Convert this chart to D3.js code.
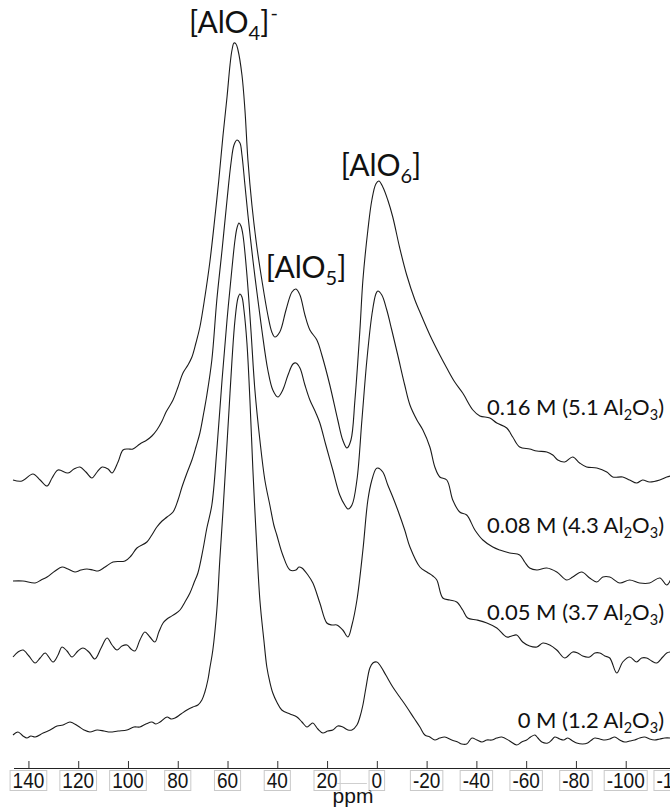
<!DOCTYPE html>
<html>
<head>
<meta charset="utf-8">
<script src="https://cdn.jsdelivr.net/npm/d3@7/dist/d3.min.js"></script>
<style>
  html, body { margin: 0; padding: 0; background: #fff; }
  svg { display: block; }
</style>
</head>
<body>
<svg id="chart" width="670" height="808"></svg>
<script>
// 27Al MAS NMR spectra, stacked by alumina content (ppm, relative intensity)
const spectrum016 = [
  [146.2,0],[142.6,-1],[138.2,6],[135.3,0],[132.5,-6],[130.5,2],[128.1,10],[124.1,7],[121.7,11],[119.3,13],
  [116.9,8],[114.5,2],[112.4,8],[110.4,13],[108.0,11],[106.4,7],[104.0,18],[102.0,30],[100.0,31],[98.0,31],
  [95.2,36],[92.4,40],[90.4,44],[88.4,50],[86.3,59],[84.7,68],[81.9,80],[79.9,93],[77.9,107],[75.9,115],
  [74.3,123],[72.7,137],[71.1,153],[69.1,183],[67.1,218],[65.1,262],[63.5,300],[61.8,345],[60.2,383],[59.0,415],
  [58.2,430],[57.4,437],[56.6,436],[55.8,430],[54.2,405],[53.0,370],[51.8,320],[50.2,275],[48.2,233],[46.2,200],
  [43.8,165],[42.2,148],[41.0,143],[39.0,148],[36.5,170],[34.1,188],[32.5,191],[30.9,185],[28.9,165],[26.9,150],
  [24.1,140],[22.1,125],[18.9,95],[15.7,60],[13.7,40],[12.0,32],[10.4,40],[8.8,80],[6.8,150],[5.6,200],
  [3.6,250],[2.0,280],[0.4,296],[-0.8,299],[-2.4,293],[-4.4,280],[-6.4,263],[-9.2,232],[-12.0,205],[-15.3,180],
  [-17.3,168],[-21.3,145],[-25.3,125],[-28.1,112],[-31.3,98],[-34.5,87],[-38.6,70],[-41.4,64],[-45.4,62],[-48.2,57],
  [-52.2,52],[-54.6,43],[-57.4,33],[-61.4,31],[-64.3,29],[-68.3,28],[-70.7,25],[-72.7,20],[-75.5,18],[-78.7,23],
  [-81.5,17],[-84.3,13],[-88.4,12],[-92.4,8],[-94.8,3],[-98.8,3],[-101.6,0],[-104.4,-3],[-106.8,0],[-109.6,-2],
  [-113.7,0],[-116.5,3],[-118.0,4]
];
const spectrum008 = [
  [146.2,0],[142.2,0],[137.3,-2],[134.9,1],[132.5,4],[129.3,10],[126.5,14],[124.1,12],[121.3,9],[118.9,11],
  [116.5,12],[114.1,11],[112.0,10],[109.2,14],[106.0,19],[101.2,20],[98.8,25],[96.4,33],[92.4,39],[90.4,46],
  [88.4,54],[86.3,60],[84.3,64],[81.9,69],[79.9,81],[78.3,94],[76.3,108],[74.3,121],[72.7,134],[71.1,148],
  [69.5,169],[68.3,186],[66.3,221],[64.3,281],[62.2,331],[60.2,381],[58.6,418],[57.4,436],[56.2,441],[55.0,438],
  [54.2,426],[53.0,396],[51.8,366],[49.8,321],[48.2,289],[46.2,251],[43.8,211],[41.8,191],[39.8,184],[37.8,191],
  [35.7,206],[33.7,217],[32.5,218],[30.9,213],[28.9,196],[26.9,181],[24.5,168],[22.9,158],[20.5,136],[17.7,111],
  [14.9,86],[12.9,76],[11.6,72],[10.0,76],[8.0,101],[6.0,161],[4.0,221],[2.0,266],[0.4,287],[-0.4,290],
  [-2.0,286],[-4.0,271],[-6.0,251],[-8.4,226],[-11.2,196],[-13.3,176],[-16.1,161],[-18.5,151],[-21.3,134],[-23.3,114],
  [-25.3,104],[-28.1,101],[-30.5,81],[-33.3,69],[-36.1,66],[-39.4,51],[-42.6,41],[-46.6,34],[-49.4,31],[-53.4,28],
  [-57.4,26],[-59.4,19],[-61.4,13],[-64.3,11],[-68.3,13],[-72.3,9],[-76.3,1],[-78.7,4],[-82.3,9],[-85.5,3],
  [-88.4,-1],[-90.8,4],[-93.6,4],[-97.6,-2],[-101.6,1],[-105.6,-2],[-109.6,-2],[-113.7,3],[-116.5,-4],[-118.0,1]
];
const spectrum005 = [
  [146.2,0],[144.2,5],[142.2,7],[139.8,1],[137.3,-6],[135.3,-1],[133.3,4],[130.1,-5],[128.1,2],[126.5,10],
  [124.5,6],[122.5,0],[120.1,6],[118.1,9],[115.7,5],[113.3,-2],[110.8,9],[108.4,19],[106.4,12],[104.4,7],
  [102.4,11],[100.4,12],[98.8,8],[97.2,6],[95.2,17],[93.2,25],[91.2,20],[89.2,15],[87.6,25],[85.9,34],
  [84.3,38],[83.1,40],[81.1,43],[79.1,47],[77.1,55],[75.1,64],[73.5,74],[71.9,84],[69.9,107],[68.3,129],
  [66.3,152],[64.3,207],[62.2,277],[60.2,337],[58.2,389],[57.0,417],[56.2,429],[55.4,434],[54.6,431],[53.8,422],
  [52.2,382],[50.6,327],[49.0,267],[47.0,217],[45.0,177],[43.0,152],[41.4,132],[40.2,122],[37.8,102],[34.9,87],
  [32.5,87],[31.3,90],[30.1,89],[27.7,82],[25.7,74],[22.9,54],[20.1,34],[18.1,32],[16.1,32],[13.7,27],
  [11.6,20],[10.0,32],[8.0,57],[5.6,107],[3.6,157],[2.0,177],[0.4,188],[-0.4,189],[-2.4,185],[-4.4,172],
  [-6.4,160],[-8.4,147],[-11.2,127],[-13.3,110],[-17.3,90],[-20.1,85],[-22.5,81],[-24.1,77],[-26.5,59],[-29.3,57],
  [-32.1,55],[-34.5,47],[-36.5,39],[-40.2,37],[-44.2,34],[-48.2,29],[-52.2,20],[-54.2,21],[-56.2,22],[-58.6,15],
  [-61.4,11],[-64.3,10],[-66.7,14],[-69.5,12],[-72.3,7],[-75.5,-1],[-78.7,5],[-80.7,4],[-82.7,1],[-85.5,0],
  [-87.6,4],[-89.6,4],[-91.6,1],[-93.6,-1],[-96.4,-16],[-98.8,-5],[-101.6,0],[-104.4,-5],[-106.4,-1],[-108.4,-1],
  [-110.4,-4],[-112.4,-6],[-114.9,0],[-116.5,4],[-118.0,5]
];
const spectrum000 = [
  [146.2,0],[144.2,3],[142.2,-1],[140.6,-3],[139.0,-1],[137.3,-2],[134.1,2],[131.3,5],[128.5,9],[126.1,10],
  [123.3,13],[120.1,9],[117.7,5],[115.3,3],[112.4,5],[109.6,4],[107.2,3],[104.0,4],[100.4,5],[97.6,8],
  [95.2,8],[92.8,11],[90.4,13],[88.8,11],[87.1,13],[84.3,18],[82.7,16],[81.1,17],[78.7,21],[76.3,25],
  [73.9,28],[71.9,30],[70.3,35],[69.1,43],[67.9,55],[67.1,67],[65.9,85],[64.3,125],[63.1,175],[61.8,225],
  [60.6,275],[59.4,325],[58.2,375],[57.0,415],[55.8,437],[55.0,441],[54.2,438],[53.4,425],[52.2,392],[51.0,335],
  [49.8,265],[48.6,205],[47.0,135],[45.4,95],[44.2,68],[43.0,53],[41.8,42],[40.2,33],[38.2,25],[34.9,21],
  [32.1,18],[30.1,13],[28.1,8],[26.9,10],[25.7,12],[23.7,6],[21.7,2],[19.7,4],[17.7,5],[15.7,9],
  [13.7,8],[11.6,5],[10.0,5],[8.0,10],[6.8,18],[5.6,30],[4.4,47],[2.8,67],[1.6,72],[0.0,73],
  [-1.2,70],[-3.6,60],[-6.4,48],[-9.2,38],[-12.0,28],[-14.9,17],[-17.3,8],[-19.3,0],[-21.3,-2],[-23.3,-5],
  [-25.3,-3],[-27.3,-2],[-30.1,-5],[-32.5,-7],[-34.1,-9],[-36.1,-9],[-38.2,-3],[-40.2,-5],[-42.2,-7],[-44.2,-5],
  [-46.2,-5],[-48.2,-3],[-50.2,-2],[-53.4,-6],[-56.2,-10],[-58.2,-7],[-60.2,-5],[-61.8,-2],[-63.5,0],[-64.7,-3],
  [-66.3,-7],[-68.7,-8],[-70.3,-5],[-71.5,-2],[-73.5,-4],[-75.1,-5],[-76.7,-3],[-78.7,-6],[-80.3,-8],[-82.7,-9],
  [-84.7,-8],[-86.3,-5],[-87.6,-3],[-89.6,-4],[-91.6,-5],[-93.6,-4],[-95.6,-2],[-97.6,-5],[-99.6,-7],[-101.6,-6],
  [-103.6,-5],[-105.6,-3],[-107.6,-2],[-109.6,-4],[-111.6,-5],[-113.7,-4],[-115.7,-3],[-118.0,-3]
];

const spectra = [spectrum016, spectrum008, spectrum005, spectrum000];
// vertical stacking offset of each spectrum, in intensity units
const stackOffsets = [260, 159, 83, 5];
// sample labels: molarity and Al2O3 ratio
const sampleMolarity = ["0.16 M", "0.08 M", "0.05 M", "0 M"];
const sampleAl2O3 = ["5.1", "4.3", "3.7", "1.2"];
// label heights in intensity units (same scale as the spectra)
const sampleLabelLevels = [325, 207, 120, 12];

// species annotations: subscript, optional charge, label start (ppm), height (intensity units)
const speciesLabels = [
  { sub: "4", sup: "-", ppm: 75.5, level: 707 },
  { sub: "5", sup: "",  ppm: 44.6, level: 462 },
  { sub: "6", sup: "",  ppm: 14.5, level: 564 }
];

const tickValues = [140, 120, 100, 80, 60, 40, 20, 0, -20, -40, -60, -80, -100, -120];

const svg = d3.select("#chart");

const x = d3.scaleLinear().domain([146, -118]).range([13.5, 670.5]);
const y = d3.scaleLinear().domain([0, 700]).range([740, 40]);

const line = d3.line()
  .x(d => x(d[0]))
  .y(d => y(d[1]))
  .curve(d3.curveCatmullRom.alpha(0.5));

svg.append("g")
  .selectAll("path")
  .data(spectra)
  .join("path")
  .attr("fill", "none")
  .attr("stroke", "#1b1b1b")
  .attr("stroke-width", 1.1)
  .attr("stroke-linejoin", "round")
  .attr("d", (s, i) => line(s.map(p => [p[0], p[1] + stackOffsets[i]])));

// sample labels on the right
const labelFont = "Lato, 'Open Sans', sans-serif";
sampleMolarity.forEach((m, i) => {
  const t = svg.append("text")
    .attr("x", 664)
    .attr("y", y(sampleLabelLevels[i]))
    .attr("text-anchor", "end")
    .attr("font-family", labelFont)
    .attr("font-size", 22)
    .attr("fill", "#111");
  t.append("tspan").text(`${m} (${sampleAl2O3[i]} Al`);
  t.append("tspan").attr("font-size", 14.5).attr("dy", 5).text("2");
  t.append("tspan").attr("dy", -5).text("O");
  t.append("tspan").attr("font-size", 14.5).attr("dy", 5).text("3");
  t.append("tspan").attr("dy", -5).text(")");
});

// species labels
speciesLabels.forEach(s => {
  const t = svg.append("text")
    .attr("x", x(s.ppm))
    .attr("y", y(s.level))
    .attr("font-family", labelFont)
    .attr("font-size", 30)
    .attr("fill", "#111");
  t.append("tspan").text("[AlO");
  t.append("tspan").attr("font-size", 20).attr("dy", 7).text(s.sub);
  t.append("tspan").attr("dy", -7).text("]");
  if (s.sup) t.append("tspan").attr("font-size", 20).attr("dy", -13).attr("dx", 1).text(s.sup);
});

// ppm axis with upward ticks
const axisY = 768;
const axis = d3.axisBottom(x)
  .tickValues(tickValues)
  .tickSizeInner(-7)
  .tickSizeOuter(0)
  .tickFormat(() => "");
const gAxis = svg.append("g").attr("transform", `translate(0,${axisY})`).call(axis);
gAxis.select(".domain").attr("stroke", "#222").attr("stroke-width", 1.2);
gAxis.selectAll(".tick line").attr("stroke", "#333");

// boxed tick labels below the axis line
const tickFont = "'Liberation Sans', Arial, sans-serif";
const gLabels = svg.append("g");
tickValues.forEach(v => {
  const g = gLabels.append("g");
  const t = g.append("text")
    .attr("transform", `translate(${x(v)},788) scale(1,1.14)`)
    .attr("text-anchor", "middle")
    .attr("font-family", tickFont)
    .attr("font-size", 19)
    .attr("fill", "#141414")
    .text(v);
  const bb = t.node().getBBox();
  g.insert("rect", "text")
    .attr("x", x(v) + bb.x - 2.5)
    .attr("y", 770.5)
    .attr("width", bb.width + 5)
    .attr("height", 20)
    .attr("fill", "#fff")
    .attr("stroke", "#c9c9c9")
    .attr("stroke-width", 1);
});

// stray underline trailing the 20 ppm label
svg.append("line")
  .attr("x1", x(20) + 10).attr("x2", x(4))
  .attr("y1", 783.5).attr("y2", 783.5)
  .attr("stroke", "#cfcfcf").attr("stroke-width", 1);
svg.append("text")
  .attr("x", x(3.5)).attr("y", 800)
  .attr("font-family", tickFont).attr("font-size", 12)
  .attr("fill", "#444").text("`");

svg.append("text")
  .attr("x", 353)
  .attr("y", 803)
  .attr("text-anchor", "middle")
  .attr("font-family", tickFont)
  .attr("font-size", 21)
  .attr("fill", "#141414")
  .text("ppm");
</script>
</body>
</html>
